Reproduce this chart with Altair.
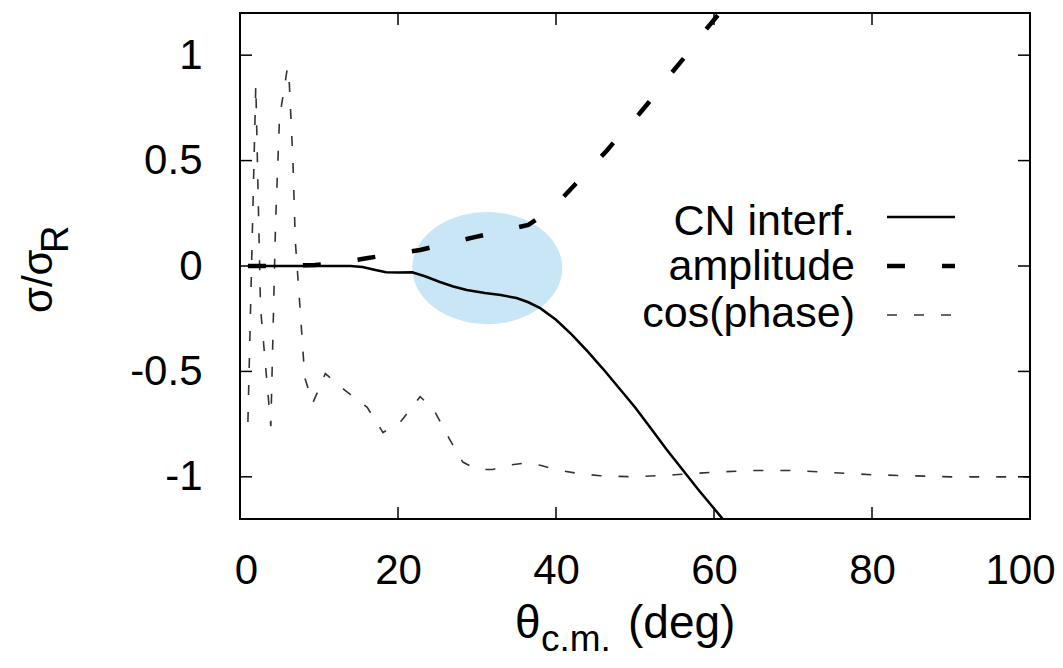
import altair as alt
import pandas as pd

# ---- data ----
CN_THETA = [1, 5, 9, 14, 15.5, 17, 18.5, 20, 21.8, 23.5, 25.3, 27, 28.7, 31, 33, 35, 36.5, 38,
            40, 42, 44, 46, 48, 50, 52, 54, 56, 58, 60, 62, 64]
CN_VALUE = [0, 0, 0, 0, -0.005, -0.018, -0.03, -0.031, -0.03, -0.05, -0.076, -0.097, -0.114, -0.128,
            -0.138, -0.152, -0.172, -0.2, -0.255, -0.325, -0.405, -0.49, -0.58, -0.67, -0.77, -0.87,
            -0.965, -1.06, -1.15, -1.24, -1.33]

AMP_THETA = [1, 5, 9.5, 13, 16.2, 19.5, 22.8, 26, 29.7, 33, 36.5, 38.5, 40.5, 42.5, 44.5, 46.5,
             48.5, 50.5, 52.5, 54.5, 56.5, 58.5, 60.5, 62.5]
AMP_VALUE = [0, 0.001, 0.005, 0.018, 0.038, 0.057, 0.076, 0.105, 0.137, 0.165, 0.195, 0.245, 0.31,
             0.39, 0.47, 0.55, 0.64, 0.72, 0.81, 0.91, 1.0, 1.1, 1.19, 1.29]

COS_THETA = [1.0, 2.0, 2.6, 3.9, 4.5, 5.0, 6.0, 6.2, 6.7, 7.0, 7.6, 8.2, 9.2, 9.8, 10.8, 13.3, 16.1,
             18.1, 20.3, 22.8, 24.5, 26.5, 28.2, 30, 32, 34, 36, 38, 40.5, 43, 45.6, 50, 55, 60,
             65, 70, 75, 80, 85, 90, 95, 100]
COS_VALUE = [-0.74, 0.86, -0.2, -0.76, 0.2, 0.7, 0.94, 0.9, 0.5, 0.12, -0.2, -0.53, -0.65, -0.6,
             -0.51, -0.59, -0.67, -0.79, -0.74, -0.62, -0.68, -0.82, -0.93, -0.965, -0.965, -0.945,
             -0.935, -0.945, -0.97, -0.985, -0.995, -1.0, -0.99, -0.978, -0.97, -0.97, -0.98, -0.99,
             -0.995, -1.0, -1.0, -1.0]

SERIES = ["CN interf.", "amplitude", "cos(phase)"]

HIGHLIGHT_THETA = [31.3]
HIGHLIGHT_VALUE = [-0.01]

X_TICKS = [0, 20, 40, 60, 80, 100]
Y_TICKS = [-1, -0.5, 0, 0.5, 1]

FONT = "Liberation Sans"
W, H = 790, 506

# ---- tables ----
df = pd.concat([
    pd.DataFrame({"theta": CN_THETA, "value": CN_VALUE, "series": SERIES[0]}),
    pd.DataFrame({"theta": AMP_THETA, "value": AMP_VALUE, "series": SERIES[1]}),
    pd.DataFrame({"theta": COS_THETA, "value": COS_VALUE, "series": SERIES[2]}),
], ignore_index=True)
df_hl = pd.DataFrame({"theta": HIGHLIGHT_THETA, "value": HIGHLIGHT_VALUE})
df_xt = pd.DataFrame({"theta": X_TICKS})
df_yt = pd.DataFrame({"value": Y_TICKS})

xscale = alt.Scale(domain=[0, 100], nice=False, zero=False)
yscale = alt.Scale(domain=[-1.2, 1.2], nice=False, zero=False)
xaxis = alt.Axis(values=X_TICKS, ticks=False, domain=False, grid=False, labelFont=FONT,
                 labelFontSize=42, labelColor="black", labelPadding=64,
                 labelBaseline="alphabetic", labelFlush=False, labelOverlap=False,
                 labelOffset={"condition": [{"test": "datum.value == 0", "value": 6},
                                            {"test": "datum.value == 100", "value": -10}],
                              "value": 0})
yaxis = alt.Axis(values=Y_TICKS, ticks=False, domain=False, grid=False, labelFont=FONT,
                 labelFontSize=42, labelColor="black", labelPadding=38,
                 labelBaseline="middle", labelFlush=False, labelOverlap=False,
                 labelExpr="replace(format(datum.value, '~g'), '\u2212', '-')")


def X():
    return alt.X("theta:Q", scale=xscale, axis=xaxis, title=None)


def Y():
    return alt.Y("value:Q", scale=yscale, axis=yaxis, title=None)


ellipse_path = "M -1 0 A 1 0.747 0 1 0 1 0 A 1 0.747 0 1 0 -1 0 Z"
highlight = alt.Chart(df_hl).mark_point(
    shape=ellipse_path, size=22500, filled=True, fill="#c8e6f5", opacity=1, strokeWidth=0
).encode(x=X(), y=Y())

cos_line = alt.Chart(df).transform_filter(alt.datum.series == SERIES[2]).mark_line(
    color="#333333", strokeWidth=1.6, strokeDash=[10, 17], clip=True
).encode(x=X(), y=Y(), order="theta:Q")

cn_line = alt.Chart(df).transform_filter(alt.datum.series == SERIES[0]).mark_line(
    color="black", strokeWidth=2.5, clip=True
).encode(x=X(), y=Y(), order="theta:Q")

amp_line = alt.Chart(df).transform_filter(alt.datum.series == SERIES[1]).mark_line(
    color="black", strokeWidth=4.5, strokeDash=[18, 37], strokeCap="butt", clip=True
).encode(x=X(), y=Y(), order="theta:Q")

# inward mirrored ticks
TL = 12
xt_bottom = alt.Chart(df_xt).mark_rule(color="black", strokeWidth=1.5).encode(
    x=X(), y=alt.value(H - TL), y2=alt.value(H))
xt_top = alt.Chart(df_xt).mark_rule(color="black", strokeWidth=1.5).encode(
    x=X(), y=alt.value(0), y2=alt.value(TL))
yt_left = alt.Chart(df_yt).mark_rule(color="black", strokeWidth=1.5).encode(
    y=Y(), x=alt.value(0), x2=alt.value(TL))
yt_right = alt.Chart(df_yt).mark_rule(color="black", strokeWidth=1.5).encode(
    y=Y(), x=alt.value(W - TL), x2=alt.value(W))

# legend
one = pd.DataFrame({"k": [0]})
leg_y_text = [222, 267, 314]
leg_y_line = [204, 253, 302]
legend_layers = []
styles = [
    dict(color="black", strokeWidth=2.5),
    dict(color="black", strokeWidth=4.5, strokeDash=[18, 37], strokeCap="butt"),
    dict(color="#333333", strokeWidth=1.6, strokeDash=[10, 17]),
]
for lab, ty, ly, st in zip(SERIES, leg_y_text, leg_y_line, styles):
    legend_layers.append(
        alt.Chart(one).mark_text(align="right", baseline="alphabetic", font=FONT,
                                 fontSize=43, color="black").encode(
            text=alt.value(lab), x=alt.value(615), y=alt.value(ty)))
    legend_layers.append(
        alt.Chart(one).mark_rule(**st).encode(
            x=alt.value(647), x2=alt.value(715), y=alt.value(ly)))


# axis titles with subscripts
def txt(s, x, y, size, angle=None):
    kw = dict(align="left", baseline="alphabetic", font=FONT, fontSize=size, color="black")
    if angle is not None:
        kw["angle"] = angle
    return alt.Chart(one).mark_text(**kw).encode(
        text=alt.value(s), x=alt.value(x), y=alt.value(y))


titles = [
    txt("θ", 275, 625, 46),
    txt("c.m.", 301, 638, 37),
    txt("(deg)", 388, 625, 46),
    txt("σ/σ", -188, 300, 42, angle=270),
    txt("R", -172, 240, 38, angle=270),
]

chart = alt.layer(
    highlight, cos_line, cn_line, amp_line,
    xt_bottom, xt_top, yt_left, yt_right,
    *legend_layers, *titles
).properties(
    width=W, height=H,
    autosize=alt.AutoSizeParams(type="none"),
    padding={"left": 232, "top": 5, "right": 25, "bottom": 141},
    background="white",
).configure_view(stroke="black", strokeWidth=2)

chart.save("out.html", embed_options={"renderer": "svg", "actions": False})
